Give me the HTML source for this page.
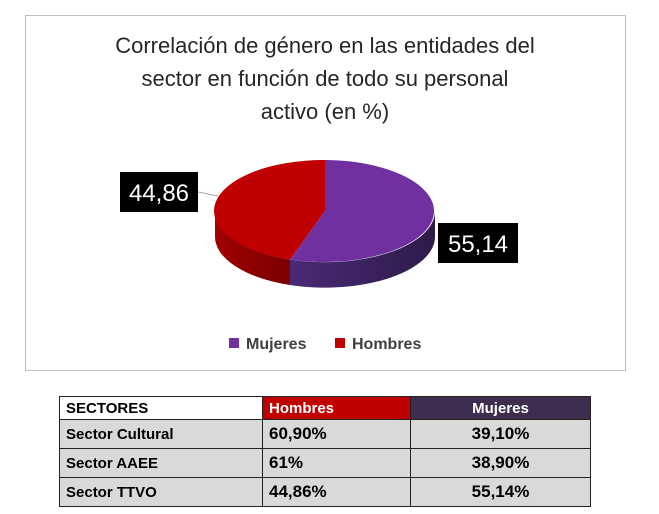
<!DOCTYPE html>
<html><head><meta charset="utf-8"><style>
body{margin:0;background:#fff;width:659px;height:514px;overflow:hidden;font-family:"Liberation Sans",sans-serif}
table{position:absolute;left:59px;top:396px;border-collapse:collapse;font-weight:bold;font-size:15px}
td{border:1.5px solid #222;padding:0 6px;height:28px}
</style></head><body>
<svg width="659" height="390" style="position:absolute;left:0;top:0">
<defs>
<linearGradient id="rs" x1="0" x2="1"><stop offset="0" stop-color="#a00000"/><stop offset="1" stop-color="#7a0000"/></linearGradient>
<linearGradient id="ps" x1="0" x2="1"><stop offset="0" stop-color="#4a2a75"/><stop offset="1" stop-color="#2e1a4a"/></linearGradient>
</defs>
<rect x="25.5" y="15.5" width="600" height="355" fill="#fff" stroke="#bfbfbf"/>
<g font-size="22" fill="#262626" text-anchor="middle">
<text x="325" y="53">Correlación de género en las entidades del</text>
<text x="325" y="86">sector en función de todo su personal</text>
<text x="325" y="119">activo (en %)</text>
</g>
<path d="M215,211 A110,51 0 0 0 290,259.5 L290,285 A110,51 0 0 1 215,236 Z" fill="url(#rs)"/>
<path d="M290,259.5 A110,51 0 0 0 435,211 L435,236 A110,51 0 0 1 290,285 Z" fill="url(#ps)"/>
<path d="M325,211 L325,160 A110,51 0 0 0 290,259.5 Z" fill="#c00000"/>
<path d="M325,211 L325,160 A110,51 0 1 1 290,259.5 Z" fill="#7030a0"/>
<line x1="198" y1="192" x2="218" y2="196" stroke="#a6a6a6"/>
<rect x="120" y="172" width="78" height="40" fill="#000"/>
<text x="159" y="201" font-size="24" fill="#fff" text-anchor="middle">44,86</text>
<rect x="438" y="223" width="80" height="40" fill="#000"/>
<text x="478" y="252" font-size="24" fill="#fff" text-anchor="middle">55,14</text>
<rect x="229" y="338" width="10" height="10" fill="#7030a0"/>
<text x="246" y="349" font-size="16" font-weight="bold" fill="#404040">Mujeres</text>
<rect x="335" y="338" width="10" height="10" fill="#c00000"/>
<text x="352" y="349" font-size="16" font-weight="bold" fill="#404040">Hombres</text>
</svg>
<table>
<tr><td style="width:190px;background:#fff;height:22px">SECTORES</td><td style="width:135px;background:#c00000;color:#fff;height:22px">Hombres</td><td style="width:167px;background:#3f2d4f;color:#fff;text-align:center;height:22px">Mujeres</td></tr>
<tr style="background:#d9d9d9"><td>Sector Cultural</td><td style="font-size:17px">60,90%</td><td style="text-align:center;font-size:17px">39,10%</td></tr>
<tr style="background:#d9d9d9"><td>Sector AAEE</td><td style="font-size:17px">61%</td><td style="text-align:center;font-size:17px">38,90%</td></tr>
<tr style="background:#d9d9d9"><td>Sector TTVO</td><td style="font-size:17px">44,86%</td><td style="text-align:center;font-size:17px">55,14%</td></tr>
</table>
</body></html>
